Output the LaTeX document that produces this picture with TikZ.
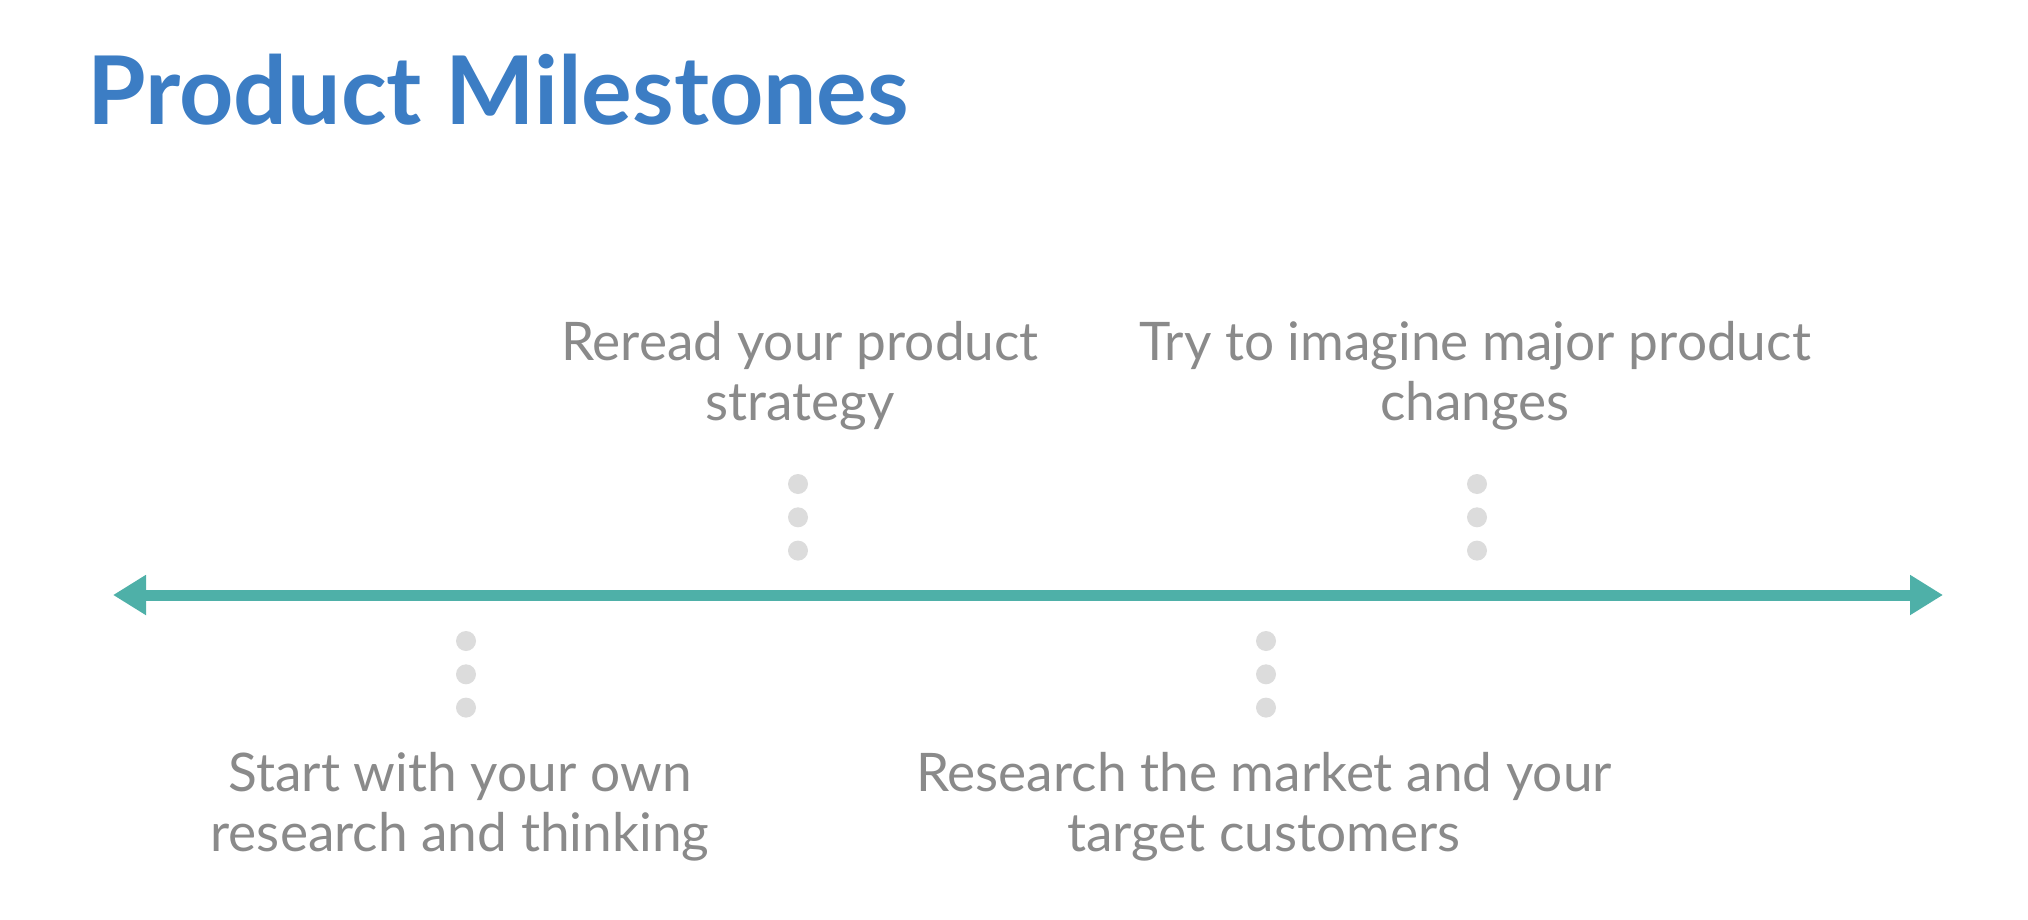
\documentclass[tikz,border=0pt]{standalone}
\usepackage{fontspec}
\setmainfont{Lato}
\usepackage{tikz}
\usetikzlibrary{
    arrows.meta,
    positioning
}
\definecolor{titleblue}{RGB}{60,125,196}
\definecolor{lineteal}{RGB}{78,176,168}
\definecolor{textgray}{RGB}{138,138,138}
\definecolor{dotgray}{RGB}{220,220,220}
\tikzstyle{heading} = [
    anchor=base west,
    inner sep=0pt,
    text=titleblue,
    font=\fontsize{47.4}{52}\selectfont\bfseries
]
\tikzstyle{milestone} = [
    align=center,
    inner sep=0pt,
    text=textgray,
    font=\fontsize{26.6}{30}\selectfont
]
\tikzstyle{dot} = [
    circle,
    fill=dotgray,
    minimum size=10pt,
    inner sep=0pt
]
\tikzstyle{timeline} = [
    <->,
    >={Triangle[length=16.5pt, width=19pt]},
    line width=5.5pt,
    draw=lineteal
]

\begin{document}
\begin{tikzpicture}[x=0.5pt, y=-0.5pt]
        \useasboundingbox (0,0) rectangle (2028,920);
        % Title
        \node[heading] (title) at (87,125) {Product Milestones};

        % Timeline
        \coordinate (past) at (113,595);
        \coordinate (future) at (1943,595);
        \draw[timeline] (past) -- (future);

        % Dot columns
        \foreach \name/\x/\y in {reread/798/484, imagine/1477/484, start/466/641, market/1266/641} {
            \node[dot] (\name-1) at (\x,\y) {};
            \node[dot, below=6.25pt of \name-1] (\name-2) {};
            \node[dot, below=6.25pt of \name-2] (\name-3) {};
        }

        % Milestones
        \node[milestone] (reread) at (800,376) {Reread your product\\strategy};
        \node[milestone] (imagine) at (1475,376) {Try to imagine major product\\changes};
        \node[milestone] (start) at (460,807) {Start with your own\\research and thinking};
        \node[milestone] (market) at (1264,807) {Research the market and your\\target customers};
    \end{tikzpicture}
\end{document}
